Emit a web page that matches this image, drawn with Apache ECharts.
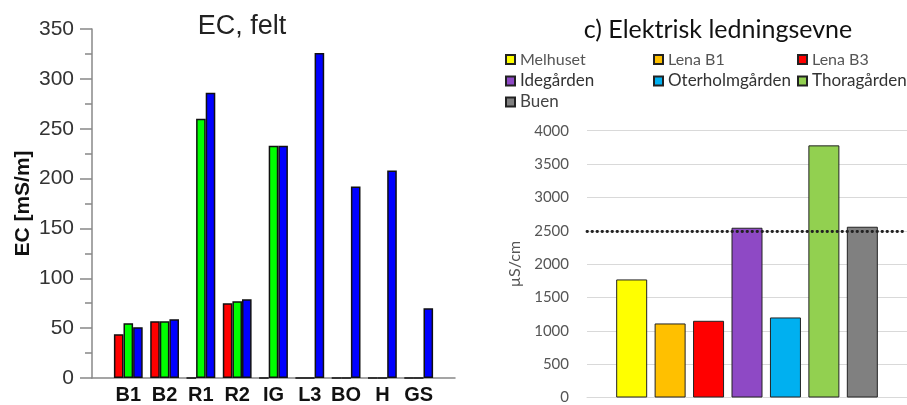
<!DOCTYPE html>
<html><head><meta charset="utf-8">
<script src="https://cdn.jsdelivr.net/npm/echarts@6/dist/echarts.min.js"></script>
<style>html,body{margin:0;padding:0;background:#fff}#c{width:907px;height:405px}</style>
</head><body><div id="c"></div>
<script>
// ---- Left chart: "EC, felt" (mS/m)
const feltSites = ['B1', 'B2', 'R1', 'R2', 'IG', 'L3', 'BO', 'H', 'GS'];
const feltRed   = [44, 57, 0, 75, 0, 0, 0, 0, 0];
const feltGreen = [55, 57, 260, 77, 233, 0, 0, 0, 0];
const feltBlue  = [51, 59, 286, 79, 233, 326, 192, 208, 70];

// ---- Right chart: "c) Elektrisk ledningsevne" (µS/cm)
const sites    = ['Melhuset', 'Lena B1', 'Lena B3', 'Idegården', 'Oterholmgården', 'Thoragården', 'Buen'];
const ecValues = [1770, 1110, 1150, 2545, 1200, 3780, 2560];
const limitValue = 2500;

const siteColors = ['#ffff00', '#ffc000', '#ff0000', '#8e49c5', '#00b0f0', '#92d050', '#808080'];
const feltColors = ['#ff0000', '#00ff00', '#0000ff'];

// padded categories so the axis line extends half a slot beyond the groups
const feltCats = [''].concat(feltSites, [' ']);
const pad = arr => [null].concat(arr, [null]);

const chart = echarts.init(document.getElementById('c'));

const legendPos = [
  {left: 505, top: 56, size: 16, color: '#555'},
  {left: 653, top: 56, size: 16, color: '#555'},
  {left: 797, top: 56, size: 16, color: '#555'},
  {left: 505, top: 77, size: 17, color: '#333'},
  {left: 653, top: 77, size: 17, color: '#333'},
  {left: 797, top: 77, size: 17, color: '#333'},
  {left: 505, top: 98, size: 17, color: '#444'}
];

const option = {
  animation: false,
  title: [
    {text: 'EC, felt', left: 242, top: 13, textAlign: 'center', padding: 0,
     textStyle: {fontFamily: 'Liberation Sans', fontSize: 27, fontWeight: 'normal', color: '#222'}},
    {text: 'c) Elektrisk ledningsevne', left: 718, top: 17, textAlign: 'center', padding: 0,
     textStyle: {fontFamily: 'Lato', fontSize: 25, fontWeight: 'normal', color: '#111'}}
  ],
  legend: sites.map((s, i) => ({
    data: [{name: s}],
    left: legendPos[i].left,
    top: legendPos[i].top - 4.5,
    padding: 0,
    itemWidth: 9, itemHeight: 9, itemGap: 0,
    icon: 'rect',
    selectedMode: false,
    textStyle: {fontFamily: 'Lato', fontSize: legendPos[i].size, color: legendPos[i].color, lineHeight: 9, padding: [0, 0, 0, 0]}
  })),
  grid: [
    {left: 92, top: 29, width: 363, height: 350},
    {left: 587, top: 130.7, width: 329, height: 267.6}
  ],
  xAxis: [
    {gridIndex: 0, type: 'category', data: feltCats, boundaryGap: false,
     axisLine: {lineStyle: {color: '#888', width: 1.5}},
     axisTick: {show: false},
     axisLabel: {margin: 7, fontFamily: 'Liberation Sans', fontSize: 20, fontWeight: 'bold', color: '#111', interval: 0}},
    {gridIndex: 1, type: 'category', data: [''],
     axisLine: {show: true, lineStyle: {color: '#d9d9d9', width: 1}},
     axisTick: {show: false}, axisLabel: {show: false}}
  ],
  yAxis: [
    {gridIndex: 0, type: 'value', min: 0, max: 350, interval: 50,
     name: 'EC [mS/m]', nameLocation: 'middle', nameGap: 58,
     nameTextStyle: {fontFamily: 'Liberation Sans', fontSize: 21, fontWeight: 'bold', color: '#111'},
     axisLine: {show: true, lineStyle: {color: '#888', width: 1.5}},
     axisTick: {show: true, length: 12, lineStyle: {color: '#888', width: 1.5}},
     minorTick: {show: true, splitNumber: 2, length: 7, lineStyle: {color: '#888', width: 1.5}},
     splitLine: {show: false},
     axisLabel: {margin: 18, fontFamily: 'Liberation Sans', fontSize: 21, color: '#333'}},
    {gridIndex: 1, type: 'value', min: 0, max: 4000, interval: 500,
     name: 'µS/cm', nameLocation: 'middle', nameGap: 64,
     nameTextStyle: {fontFamily: 'Lato', fontSize: 16, color: '#555'},
     axisLine: {show: false}, axisTick: {show: false},
     splitLine: {show: true, lineStyle: {color: '#d9d9d9', width: 1}},
     axisLabel: {margin: 18, fontFamily: 'Lato', fontSize: 15, color: '#555', formatter: v => String(v)}}
  ],
  series: [
    ...[feltRed, feltGreen, feltBlue].map((arr, k) => ({
      type: 'bar', xAxisIndex: 0, yAxisIndex: 0,
      name: 'felt' + k,
      data: pad(arr),
      barWidth: 9.6, barGap: '0%',
      itemStyle: {color: feltColors[k], borderColor: '#111', borderWidth: 1.5}
    })),
    ...sites.map((s, i) => ({
      type: 'bar', xAxisIndex: 1, yAxisIndex: 1,
      name: s,
      data: [ecValues[i]],
      barWidth: 31, barGap: '24%',
      itemStyle: {color: siteColors[i], borderColor: '#222', borderWidth: 1},
      markLine: i === 0 ? {
        silent: true, symbol: 'none', label: {show: false}, z: 10,
        lineStyle: {type: [0.5, 4.5], width: 2.8, color: '#222', cap: 'round'},
        data: [{yAxis: limitValue}]
      } : undefined
    }))
  ]
};
chart.setOption(option);
</script>
</body></html>
